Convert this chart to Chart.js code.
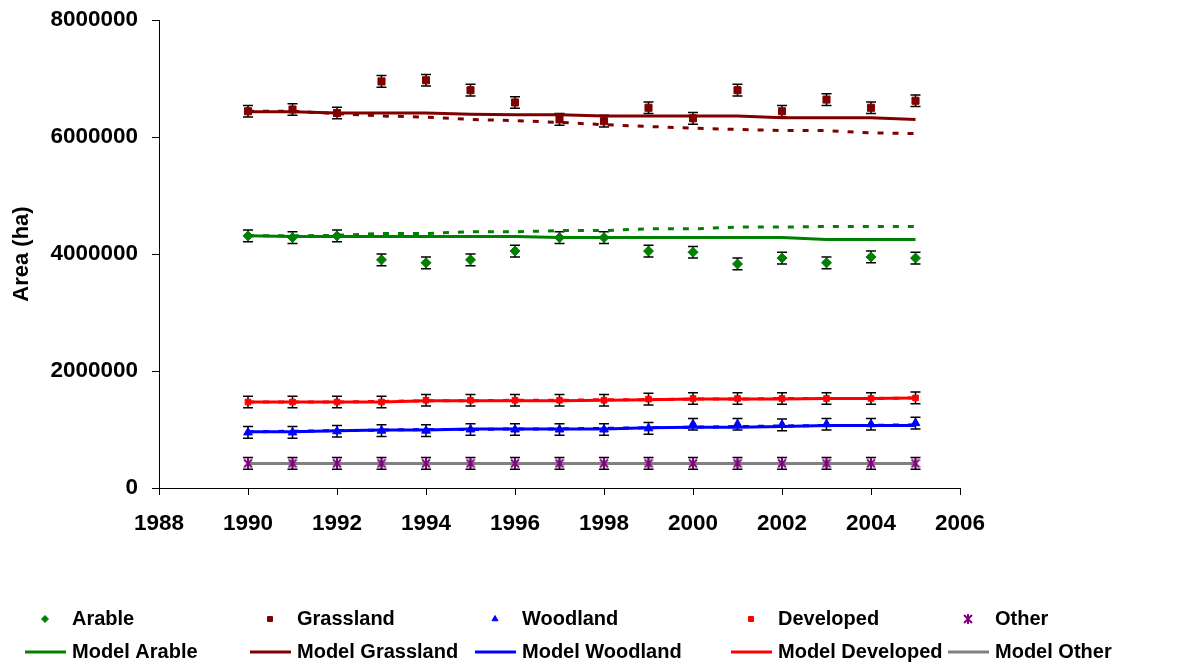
<!DOCTYPE html>
<html>
<head>
<meta charset="utf-8">
<title>Land use area</title>
<script src="https://cdn.jsdelivr.net/npm/chart.js@4.4.0/dist/chart.umd.min.js"></script>
<style>
    body { margin: 0; background: #fff; }
    #wrap { width: 1181px; height: 664px; }
</style>
</head>
<body>
<div id="wrap"><canvas id="chart" width="1181" height="664"></canvas></div>
<script>
// Observed / modelled areas (ha) per year
const years = [1990, 1991, 1992, 1993, 1994, 1995, 1996, 1997, 1998, 1999, 2000, 2001, 2002, 2003, 2004, 2005];

const arable    = [4310000, 4280000, 4310000, 3900000, 3850000, 3900000, 4050000, 4280000, 4280000, 4050000, 4030000, 3830000, 3930000, 3850000, 3950000, 3930000];
const grassland = [6440000, 6470000, 6410000, 6950000, 6970000, 6800000, 6590000, 6300000, 6270000, 6500000, 6320000, 6800000, 6440000, 6640000, 6500000, 6620000];
const woodland  = [950000, 950000, 970000, 980000, 980000, 1000000, 1000000, 1000000, 1000000, 1020000, 1090000, 1090000, 1080000, 1090000, 1090000, 1110000];
const developed = [1470000, 1470000, 1470000, 1470000, 1500000, 1500000, 1500000, 1500000, 1500000, 1520000, 1530000, 1530000, 1530000, 1530000, 1530000, 1540000];
const other     = [420000, 420000, 420000, 420000, 420000, 420000, 420000, 420000, 420000, 420000, 420000, 420000, 420000, 420000, 420000, 420000];

const modelArable    = [4310000, 4300000, 4300000, 4300000, 4300000, 4300000, 4300000, 4280000, 4280000, 4280000, 4280000, 4280000, 4280000, 4250000, 4250000, 4250000];
const modelGrassland = [6430000, 6430000, 6410000, 6410000, 6410000, 6390000, 6380000, 6380000, 6360000, 6360000, 6360000, 6360000, 6330000, 6330000, 6330000, 6300000];
const modelWoodland  = [960000, 960000, 980000, 990000, 990000, 1010000, 1010000, 1010000, 1010000, 1030000, 1040000, 1040000, 1050000, 1070000, 1070000, 1070000];
const modelDeveloped = [1470000, 1470000, 1470000, 1470000, 1490000, 1490000, 1490000, 1490000, 1500000, 1510000, 1520000, 1520000, 1520000, 1530000, 1530000, 1540000];
const modelOther     = [420000, 420000, 420000, 420000, 420000, 420000, 420000, 420000, 420000, 420000, 420000, 420000, 420000, 420000, 420000, 420000];

// second (dotted) model run, not in the legend
const altArable    = [4310000, 4310000, 4320000, 4350000, 4350000, 4380000, 4380000, 4400000, 4400000, 4430000, 4430000, 4460000, 4460000, 4470000, 4470000, 4470000];
const altGrassland = [6440000, 6440000, 6400000, 6360000, 6340000, 6300000, 6280000, 6250000, 6210000, 6180000, 6150000, 6130000, 6110000, 6110000, 6070000, 6060000];
const altWoodland  = [960000, 970000, 980000, 990000, 1000000, 1000000, 1010000, 1010000, 1020000, 1030000, 1040000, 1050000, 1060000, 1070000, 1070000, 1080000];
const altDeveloped = [1470000, 1470000, 1470000, 1480000, 1490000, 1490000, 1500000, 1500000, 1510000, 1510000, 1520000, 1520000, 1530000, 1530000, 1530000, 1540000];
const altOther     = [420000, 420000, 420000, 420000, 420000, 420000, 420000, 420000, 420000, 420000, 420000, 420000, 420000, 420000, 420000, 420000];

const obsError = 100000;

const yTicks = [0, 2000000, 4000000, 6000000, 8000000];
const xTicks = [1988, 1990, 1992, 1994, 1996, 1998, 2000, 2002, 2004, 2006];

const FONT = "'Liberation Sans', Arial, Helvetica, sans-serif";

function toPoints(values) {
    return years.map((yr, i) => ({ x: yr, y: values[i] }));
}

// Excel style "*" marker: an X with a vertical stroke
function asteriskMarker(size, color) {
    const c = document.createElement('canvas');
    c.width = size;
    c.height = size;
    const g = c.getContext('2d');
    g.strokeStyle = color;
    g.lineWidth = 2;
    g.beginPath();
    g.moveTo(1, 1); g.lineTo(size - 1, size - 1);
    g.moveTo(size - 1, 1); g.lineTo(1, size - 1);
    g.moveTo(size / 2, 0); g.lineTo(size / 2, size);
    g.stroke();
    return c;
}

const otherMarker = asteriskMarker(10, '#800080');

function observed(label, values, color, style, radius, col) {
    return {
        label: label,
        data: toPoints(values),
        showLine: false,
        pointStyle: style,
        pointRadius: radius,
        pointBackgroundColor: color,
        pointBorderColor: color,
        pointBorderWidth: 1,
        errorBar: obsError,
        legendRow: 0,
        legendCol: col
    };
}

function model(label, values, color, col) {
    return {
        label: label,
        data: toPoints(values),
        showLine: true,
        borderColor: color,
        borderWidth: 3,
        pointRadius: 0,
        tension: 0,
        fill: false,
        legendRow: 1,
        legendCol: col
    };
}

function altModel(values, color) {
    return {
        label: '',
        data: toPoints(values),
        showLine: true,
        borderColor: color,
        borderWidth: 3,
        borderDash: [6, 9],
        pointRadius: 0,
        tension: 0,
        fill: false
    };
}

// error bars, drawn under the markers
const errorBarPlugin = {
    id: 'errorBars',
    beforeDatasetsDraw(chart) {
        const { ctx, scales: { y } } = chart;
        ctx.save();
        ctx.strokeStyle = '#000';
        ctx.lineWidth = 1.5;
        chart.data.datasets.forEach((ds, i) => {
            if (!ds.errorBar) return;
            chart.getDatasetMeta(i).data.forEach((pt, j) => {
                const v = ds.data[j].y;
                const top = y.getPixelForValue(v + ds.errorBar);
                const bot = y.getPixelForValue(v - ds.errorBar);
                ctx.beginPath();
                ctx.moveTo(pt.x, top); ctx.lineTo(pt.x, bot);
                ctx.moveTo(pt.x - 5, top); ctx.lineTo(pt.x + 5, top);
                ctx.moveTo(pt.x - 5, bot); ctx.lineTo(pt.x + 5, bot);
                ctx.stroke();
            });
        });
        ctx.restore();
    }
};

// two-row legend with fixed columns like the spreadsheet one
const legendCols = [72, 297, 522, 778, 995];
const legendRows = [619, 652];

const gridLegendPlugin = {
    id: 'gridLegend',
    afterDraw(chart) {
        const ctx = chart.ctx;
        ctx.save();
        ctx.font = 'bold 20px ' + FONT;
        ctx.textBaseline = 'middle';
        ctx.textAlign = 'left';
        chart.data.datasets.forEach(ds => {
            if (ds.legendRow === undefined) return;
            const tx = legendCols[ds.legendCol];
            const ty = legendRows[ds.legendRow];
            if (ds.legendRow === 0) {
                ctx.fillStyle = ds.pointBackgroundColor;
                ctx.strokeStyle = ds.pointBorderColor;
                Chart.helpers.drawPoint(ctx, {
                    pointStyle: ds.pointStyle,
                    radius: 3.5,
                    rotation: 0,
                    borderWidth: 1
                }, tx - 27, ty);
            } else {
                ctx.strokeStyle = ds.borderColor;
                ctx.lineWidth = 3;
                ctx.beginPath();
                ctx.moveTo(tx - 47, ty);
                ctx.lineTo(tx - 6, ty);
                ctx.stroke();
            }
            ctx.fillStyle = '#000';
            ctx.fillText(ds.label, tx, ty);
        });
        ctx.restore();
    }
};

const ctx = document.getElementById('chart').getContext('2d');

new Chart(ctx, {
    type: 'scatter',
    data: {
        datasets: [
            observed('Arable', arable, '#008000', 'rectRot', 5, 0),
            observed('Grassland', grassland, '#800000', 'rect', 5, 1),
            observed('Woodland', woodland, '#0000FF', 'triangle', 5, 2),
            observed('Developed', developed, '#FF0000', 'rect', 4, 3),
            observed('Other', other, '#800080', otherMarker, 5, 4),
            model('Model Arable', modelArable, '#008000', 0),
            model('Model Grassland', modelGrassland, '#800000', 1),
            model('Model Woodland', modelWoodland, '#0000FF', 2),
            model('Model Developed', modelDeveloped, '#FF0000', 3),
            model('Model Other', modelOther, '#808080', 4),
            altModel(altArable, '#008000'),
            altModel(altGrassland, '#800000'),
            altModel(altWoodland, '#0000FF'),
            altModel(altDeveloped, '#FF0000'),
            altModel(altOther, '#808080')
        ]
    },
    options: {
        responsive: false,
        animation: false,
        layout: {
            padding: { left: 0, right: 221, top: 20, bottom: 0 }
        },
        plugins: {
            legend: { display: false },
            tooltip: { enabled: false }
        },
        scales: {
            x: {
                type: 'linear',
                min: 1988,
                max: 2006,
                afterBuildTicks: scale => {
                    scale.ticks = xTicks.map(v => ({ value: v }));
                },
                afterFit: scale => {
                    scale.height = 176;
                    scale.paddingRight = 0;
                },
                grid: {
                    drawOnChartArea: false,
                    drawTicks: true,
                    tickLength: 7,
                    color: '#000'
                },
                border: { display: true, color: '#000', width: 1 },
                ticks: {
                    color: '#000',
                    padding: 15,
                    font: { family: FONT, size: 22.5, weight: 'bold' },
                    callback: value => String(value)
                }
            },
            y: {
                min: 0,
                max: 8000000,
                afterBuildTicks: scale => {
                    scale.ticks = yTicks.map(v => ({ value: v }));
                },
                afterFit: scale => {
                    scale.width = 159;
                    scale.paddingTop = 0;
                    scale.paddingBottom = 0;
                },
                grid: {
                    drawOnChartArea: false,
                    drawTicks: true,
                    tickLength: 7,
                    color: '#000'
                },
                border: { display: true, color: '#000', width: 1 },
                ticks: {
                    color: '#000',
                    padding: 14,
                    font: { family: FONT, size: 22.5, weight: 'bold' },
                    callback: value => String(value)
                },
                title: {
                    display: true,
                    text: 'Area (ha)',
                    color: '#000',
                    padding: { top: 9, bottom: 0 },
                    font: { family: FONT, size: 22, weight: 'bold' }
                }
            }
        }
    },
    plugins: [errorBarPlugin, gridLegendPlugin]
});
</script>
</body>
</html>
